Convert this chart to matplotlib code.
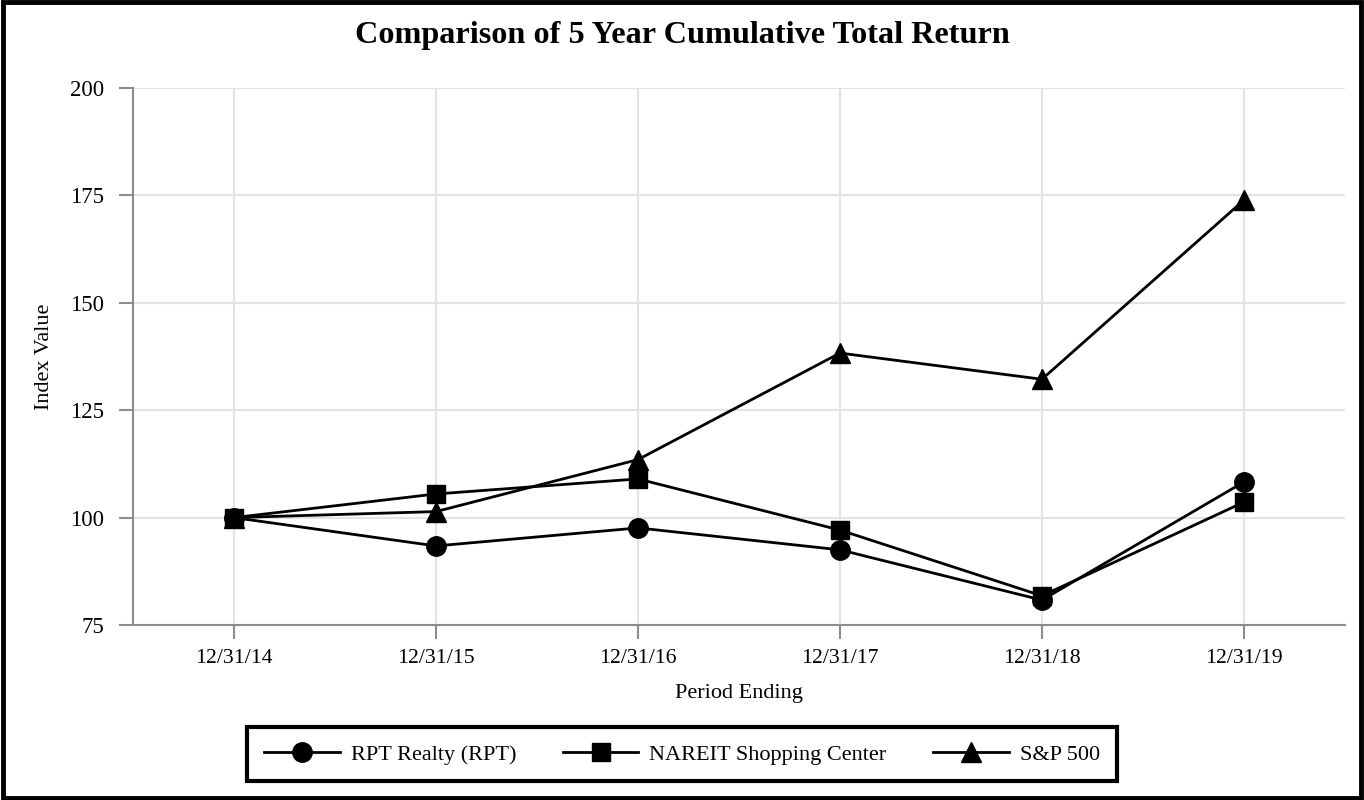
import matplotlib
matplotlib.use("Agg")
import matplotlib.pyplot as plt
from matplotlib.patches import Rectangle

periods = ["12/31/14", "12/31/15", "12/31/16", "12/31/17", "12/31/18", "12/31/19"]
rpt = [100.0, 93.4, 97.6, 92.5, 80.8, 108.3]
nareit = [100.0, 105.5, 109.0, 97.1, 81.8, 103.6]
sp500 = [100.0, 101.4, 113.5, 138.3, 132.2, 173.9]
series_names = ["RPT Realty (RPT)", "NAREIT Shopping Center", "S&P 500"]
yticks = [75, 100, 125, 150, 175, 200]

plt.rcParams['font.family'] = ['Liberation Serif', 'DejaVu Serif']

fig = plt.figure(figsize=(13.64, 8), dpi=100)
ax = fig.add_axes([0.0975, 0.21875, 0.8885, 0.67125])

x = list(range(len(periods)))
ax.plot(x, rpt, color='black', lw=2, marker='o', ms=14, label=series_names[0], zorder=3)
ax.plot(x, nareit, color='black', lw=2, marker='s', ms=13, label=series_names[1], zorder=3)
ax.plot(x, sp500, color='black', lw=2, marker='^', ms=15, label=series_names[2], zorder=3)

ax.set_xlim(-0.5, 5.5)
ax.set_ylim(75, 200)
ax.set_xticks(x)
ax.set_xticklabels(periods, fontsize=15.6)
ax.set_yticks(yticks)
ax.set_yticklabels([str(v) for v in yticks], fontsize=16.5)
ax.grid(True, color='#e3e3e3', lw=1.5, zorder=0)
ax.set_axisbelow(True)
for s in ['top', 'right']:
    ax.spines[s].set_visible(False)
for s in ['left', 'bottom']:
    ax.spines[s].set_color('#8c8c8c')
    ax.spines[s].set_linewidth(1.5)
ax.tick_params(axis='both', color='#8c8c8c', width=1.5, length=10)
ax.tick_params(axis='x', pad=7)
ax.tick_params(axis='y', pad=11)
ax.set_xlabel("Period Ending", fontsize=16, labelpad=12)
ax.set_ylabel("Index Value", fontsize=16, labelpad=11)

fig.text(0.5, 0.956, "Comparison of 5 Year Cumulative Total Return", ha='center', va='center',
         fontsize=23.2, fontweight='bold')

leg = fig.legend(loc='center', bbox_to_anchor=(0.5, 0.057), ncol=3, fontsize=16,
                 frameon=True, fancybox=False, edgecolor='black', framealpha=1,
                 handlelength=3.4, handletextpad=0.5, columnspacing=2.1,
                 borderpad=0.75, markerscale=1.0)
leg.get_frame().set_linewidth(3)

fig.patches.append(Rectangle((0.002, 0.003), 0.996, 0.994, transform=fig.transFigure,
                             fill=False, edgecolor='black', lw=3.5))

fig.savefig("out.png", dpi=100)
